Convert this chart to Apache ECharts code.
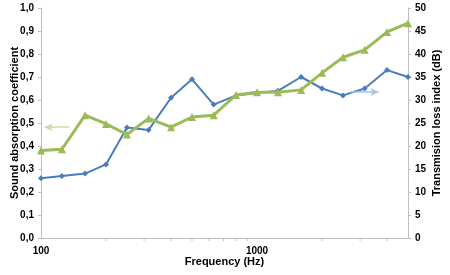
<!DOCTYPE html>
<html>
<head>
<meta charset="utf-8">
<script src="https://cdn.jsdelivr.net/npm/echarts@6/dist/echarts.min.js"></script>
<style>
  html, body { margin: 0; padding: 0; background: #fff; }
  #echarts { width: 450px; height: 275px; }
</style>
</head>
<body>
<div id="echarts"></div>
<script type="text/javascript">
var freqs = [100, 125, 160, 200, 250, 315, 400, 500, 630, 800, 1000, 1250, 1600, 2000, 2500, 3150, 4000, 5000];
var absorption = [0.26, 0.27, 0.28, 0.32, 0.48, 0.47, 0.61, 0.69, 0.58, 0.62, 0.63, 0.64, 0.70, 0.65, 0.62, 0.65, 0.73, 0.70];
var lossIndex = [19.0, 19.3, 26.7, 24.8, 22.5, 26.0, 24.1, 26.3, 26.7, 31.1, 31.7, 31.7, 32.2, 35.9, 39.3, 40.9, 44.8, 46.7];
var minorTicks = [200, 300, 400, 500, 600, 700, 800, 900, 2000, 3000, 4000];

function pairs(xs, ys) {
  var out = [];
  for (var i = 0; i < xs.length; i++) out.push([xs[i], ys[i]]);
  return out;
}

var font = 'Liberation Sans, Arial, sans-serif';
var thechart = echarts.init(document.getElementById('echarts'));
var theoption = {
  animation: false,
  grid: { left: 41, right: 42, top: 8, bottom: 37, outerBoundsMode: 'none', containLabel: false },
  xAxis: {
    type: 'log',
    min: 100,
    max: 5000,
    name: 'Frequency (Hz)',
    nameLocation: 'middle',
    nameGap: 18,
    nameMoveOverlap: false,
    nameTextStyle: { fontFamily: font, fontWeight: 'bold', fontSize: 11, color: '#000' },
    axisLine: { lineStyle: { color: '#bfbfbf' } },
    axisTick: { show: false },
    splitLine: { show: false },
    axisLabel: {
      fontFamily: font, fontWeight: 'bold', fontSize: 10, color: '#000', margin: 8,
      formatter: function (v) { return (v === 100 || v === 1000) ? String(v) : ''; }
    }
  },
  yAxis: [
    {
      type: 'value', min: 0, max: 1, interval: 0.1,
      name: 'Sound absorption coefficient',
      nameLocation: 'middle', nameGap: 21, nameRotate: 90,
      nameMoveOverlap: false,
      nameTextStyle: { fontFamily: font, fontWeight: 'bold', fontSize: 11, color: '#000' },
      axisLine: { show: true, lineStyle: { color: '#bfbfbf' } },
      axisTick: { show: true, length: 3, lineStyle: { color: '#bfbfbf' } },
      splitLine: { show: false },
      axisLabel: {
        fontFamily: font, fontWeight: 'bold', fontSize: 10, color: '#000', margin: 7,
        formatter: function (v) { return v.toFixed(1).replace('.', ','); }
      }
    },
    {
      type: 'value', min: 0, max: 50, interval: 5,
      name: 'Transmision loss index (dB)',
      nameLocation: 'middle', nameGap: 23, nameRotate: 90,
      nameMoveOverlap: false,
      nameTextStyle: { fontFamily: font, fontWeight: 'bold', fontSize: 11, color: '#000' },
      axisLine: { show: true, lineStyle: { color: '#bfbfbf' } },
      axisTick: { show: true, length: 3, lineStyle: { color: '#bfbfbf' } },
      splitLine: { show: false },
      axisLabel: { fontFamily: font, fontWeight: 'bold', fontSize: 10, color: '#000', margin: 7 }
    }
  ],
  series: [
    {
      name: 'Sound absorption coefficient',
      type: 'line',
      yAxisIndex: 0,
      data: pairs(freqs, absorption),
      symbol: 'diamond',
      symbolSize: 6,
      lineStyle: { color: '#4a7ebb', width: 2 },
      itemStyle: { color: '#4a7ebb' },
      z: 3,
      markLine: {
        silent: true,
        symbol: ['none', 'arrow'],
        symbolSize: [6, 8],
        label: { show: false },
        lineStyle: { color: '#a9c4e4', width: 1.5, type: 'solid' },
        data: [[{ coord: [2700, 0.635] }, { coord: [3650, 0.635] }]]
      }
    },
    {
      name: 'Transmision loss index (dB)',
      type: 'line',
      yAxisIndex: 1,
      data: pairs(freqs, lossIndex),
      symbol: 'triangle',
      symbolSize: 8,
      lineStyle: { color: '#9bbb59', width: 3 },
      itemStyle: { color: '#9bbb59' },
      z: 4,
      markLine: {
        silent: true,
        symbol: ['none', 'arrow'],
        symbolSize: [6, 8],
        label: { show: false },
        lineStyle: { color: '#c9dba6', width: 1.5, type: 'solid' },
        data: [[{ coord: [135, 24.1] }, { coord: [104, 24.1] }]]
      }
    },
    {
      type: 'custom',
      silent: true,
      coordinateSystem: 'cartesian2d',
      data: minorTicks.map(function (f) { return [f, 0]; }),
      renderItem: function (params, api) {
        var p = api.coord([api.value(0), 0]);
        return {
          type: 'line',
          shape: { x1: p[0], y1: p[1], x2: p[0], y2: p[1] + 3 },
          style: { stroke: '#bfbfbf', lineWidth: 1 }
        };
      }
    }
  ]
};
thechart.setOption(theoption, true);
</script>
</body>
</html>
